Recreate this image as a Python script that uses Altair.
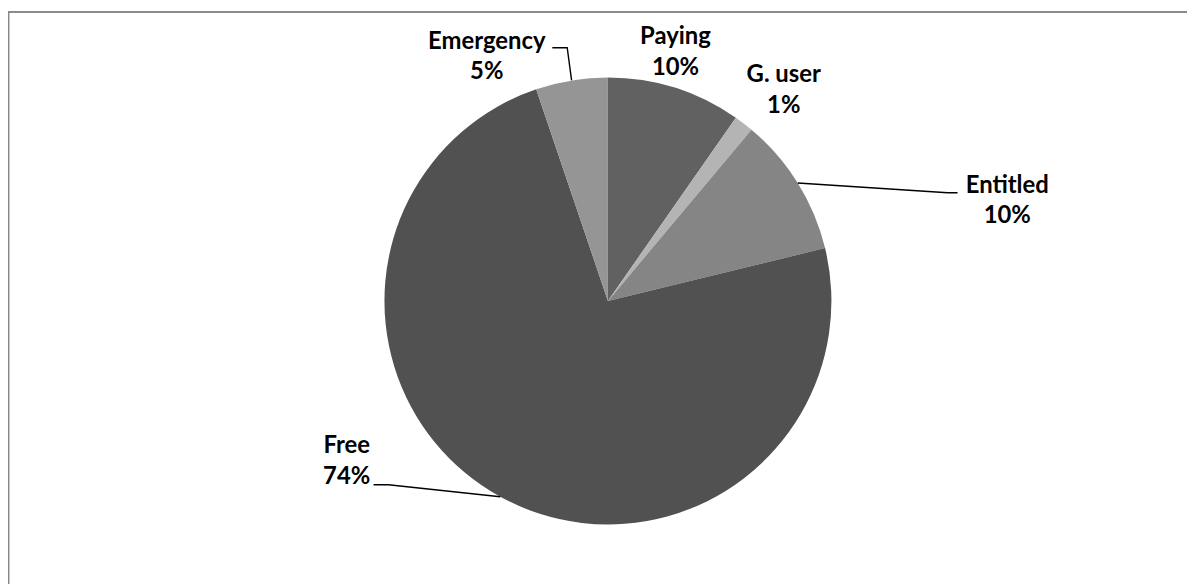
import math
import altair as alt
import pandas as pd

# ---- data ----
categories = ["Paying", "G. user", "Entitled", "Free", "Emergency"]
values = [9.7, 1.4, 10.1, 73.6, 5.2]
colors = ["#616161", "#b4b4b4", "#858585", "#515151", "#959595"]

# ---- layout (chart pixel coords) ----
CX, CY, R = 604, 293, 225
FONT = "Lato"
FS = 24
LINE = 31
# baseline position of first label line for each category
label_pos = {
    "Paying": (672, 34),
    "G. user": (781, 73),
    "Entitled": (1006, 184),
    "Free": (341, 446),
    "Emergency": (482, 39),
}
# leader lines: elbow point and end point
leaders = {
    "Emergency": [(563, 38), (548, 38)],
    "Entitled": [(946, 184), (956, 184)],
    "Free": [(383, 478), (368, 478)],
}

total = sum(values)
pct = [f"{round(v / total * 100)}%" for v in values]

df = pd.DataFrame({"cat": categories, "value": values, "idx": list(range(len(values)))})

lab_rows = []
for c, p in zip(categories, pct):
    x, y = label_pos[c]
    lab_rows.append({"cat": c, "pct": p, "x": x, "y": y, "y2": y + LINE})
lab_df = pd.DataFrame(lab_rows)

# leader lines start at each slice's mid-angle on the rim
cum = 0
mids = {}
for c, v in zip(categories, values):
    mids[c] = (cum + v / 2) / total * 2 * math.pi
    cum += v
lead_rows = []
for c, pts in leaders.items():
    a = mids[c]
    lead_rows.append({"cat": c, "o": 0, "x": CX + R * math.sin(a), "y": CY - R * math.cos(a)})
    for i, (px, py) in enumerate(pts):
        lead_rows.append({"cat": c, "o": i + 1, "x": px, "y": py})
lead_df = pd.DataFrame(lead_rows)

pie = alt.Chart(df).mark_arc(outerRadius=R).encode(
    theta=alt.Theta("value:Q", stack=True),
    color=alt.Color("cat:N", scale=alt.Scale(domain=categories, range=colors), legend=None),
    order=alt.Order("idx:Q"),
    x=alt.value(CX),
    y=alt.value(CY),
)

text_style = dict(font=FONT, fontSize=FS, fontWeight="bold", align="center",
                  baseline="alphabetic", color="#000000")
names = alt.Chart(lab_df).mark_text(**text_style).encode(
    x=alt.X("x:Q", scale=None), y=alt.Y("y:Q", scale=None), text="cat:N"
)
pcts = alt.Chart(lab_df).mark_text(**text_style).encode(
    x=alt.X("x:Q", scale=None), y=alt.Y("y2:Q", scale=None), text="pct:N"
)

lines = alt.Chart(lead_df).mark_line(color="#000000", strokeWidth=1.4).encode(
    x=alt.X("x:Q", scale=None),
    y=alt.Y("y:Q", scale=None),
    detail="cat:N",
    order="o:Q",
)

frame_top = alt.Chart(pd.DataFrame({"a": [0]})).mark_rule(color="#8a8a8a", strokeWidth=2).encode(
    x=alt.value(0), x2=alt.value(1200), y=alt.value(2)
)
frame_left = alt.Chart(pd.DataFrame({"a": [0]})).mark_rule(color="#8a8a8a", strokeWidth=2).encode(
    x=alt.value(0.5), y=alt.value(1), y2=alt.value(600)
)

chart = alt.layer(frame_top, frame_left, pie, lines, names, pcts).properties(
    width=1187,
    height=576,
    padding=0,
    autosize=alt.AutoSizeParams(type="none"),
    background="#ffffff",
).configure_view(stroke=None)

chart.save("out.html", embed_options={"renderer": "svg", "actions": False})
